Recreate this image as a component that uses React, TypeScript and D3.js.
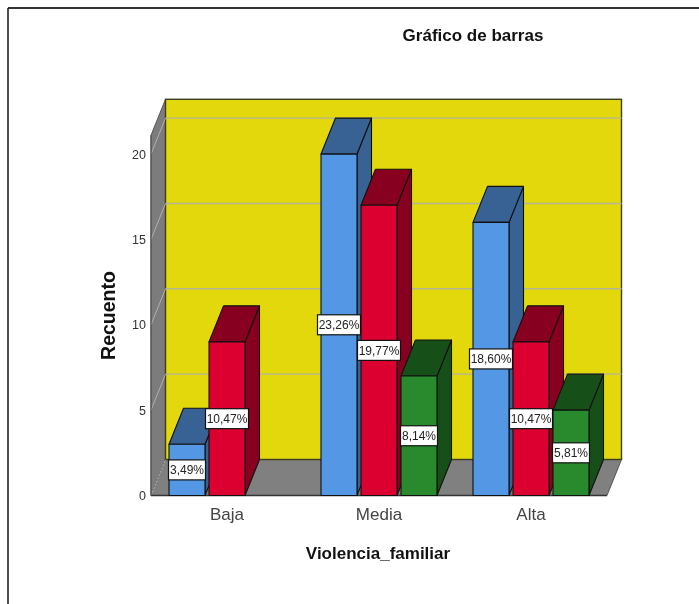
import React from "react";
import * as d3 from "d3";

const categories = ["Baja", "Media", "Alta"];
const seriesNames = ["s1", "s2", "s3"];
const seriesS1 = [3, 20, 16];
const seriesS2 = [9, 17, 9];
const seriesS3 = [0, 7, 5];
const labelsS1 = ["3,49%", "23,26%", "18,60%"];
const labelsS2 = ["10,47%", "19,77%", "10,47%"];
const labelsS3 = ["", "8,14%", "5,81%"];
const yTicks = [0, 5, 10, 15, 20];

const faces = [
  { front: "#5497E5", top: "#376293", side: "#376293" },
  { front: "#DC0031", top: "#87001F", side: "#87001F" },
  { front: "#288A2C", top: "#165018", side: "#165018" },
];
const seriesValues = [seriesS1, seriesS2, seriesS3];
const seriesLabels = [labelsS1, labelsS2, labelsS3];

const FONT = "'Liberation Sans', Arial, sans-serif";
const DX = 14.5;
const DY = -36;
const WALL = "#7C7C7C";
const FLOOR = "#808080";
const GRID = "#B4B49A";

const y = d3.scaleLinear().domain([0, 21.1]).range([495.5, 135.3]);
const x = d3.scaleBand<string>().domain(categories).range([151, 607]);
const inner = d3.scaleBand<string>().domain(seriesNames).range([-58, 58]).paddingInner(0.1);
const poly = (pts: [number, number][]) => d3.line()(pts) + "Z";

export default function App() {
  const x0 = x.range()[0];
  const x1 = x.range()[1];
  const yb = y.range()[0];
  const yt = y.range()[1];
  const bars = categories.flatMap((c, ci) =>
    seriesNames.map((s, si) => ({
      key: c + s,
      left: (x(c) as number) + x.bandwidth() / 2 + (inner(s) as number),
      width: inner.bandwidth(),
      v: seriesValues[si][ci],
      label: seriesLabels[si][ci],
      si,
    }))
  ).filter((b) => b.v > 0);

  return (
    <svg
      width={699}
      height={604}
      style={{ position: "absolute", left: 0, top: 0, display: "block", background: "#fff", filter: "blur(0.6px)" }}
      fontFamily={FONT}
    >
      <line x1={8} y1={8} x2={699} y2={8} stroke="#333" strokeWidth={1.8} />
      <line x1={8} y1={8} x2={8} y2={604} stroke="#222" strokeWidth={1.6} />
      <text x={473} y={41} fontSize={17} fontWeight="bold" textAnchor="middle" fill="#111">Gráfico de barras</text>

      {/* walls */}
      <path d={poly([[x0, yt], [x0 + DX, yt + DY], [x0 + DX, yb + DY], [x0, yb]])} fill={WALL} stroke="#555" strokeWidth={1} />
      <path d={poly([[x0, yb], [x0 + DX, yb + DY], [x1 + DX, yb + DY], [x1, yb]])} fill={FLOOR} stroke="none" />
      <rect x={x0 + DX} y={yt + DY} width={x1 - x0} height={yb - yt} fill="#E3D80C" stroke="#3c3c20" strokeWidth={1.4} />
      {yTicks.map((t) => (
        <g key={t}>
          {t > 0 && <line x1={x0 + DX} x2={x1 + DX} y1={y(t) + DY} y2={y(t) + DY} stroke={GRID} strokeWidth={1.4} />}
          <line x1={x0} x2={x0 + DX} y1={y(t)} y2={y(t) + DY} stroke="#B0B0B0" strokeWidth={1} strokeDasharray={t === 0 ? "2 1.5" : undefined} />
        </g>
      ))}
      <line x1={x0} x2={x1} y1={yb} y2={yb} stroke="#333" strokeWidth={1.4} />
      <line x1={x1} x2={x1 + DX} y1={yb} y2={yb + DY} stroke="#555" strokeWidth={1} />
      <line x1={x0} x2={x0} y1={yt} y2={yb} stroke="#555" strokeWidth={1.2} />

      {/* bars */}
      {bars.map((b) => {
        const f = faces[b.si];
        const t = y(b.v);
        const r = b.left + b.width;
        return (
          <g key={b.key} stroke="#101010" strokeWidth={1.1} strokeLinejoin="round">
            <path d={poly([[r, yb], [r + DX, yb + DY], [r + DX, t + DY], [r, t]])} fill={f.side} />
            <path d={poly([[b.left, t], [b.left + DX, t + DY], [r + DX, t + DY], [r, t]])} fill={f.top} />
            <rect x={b.left} y={t} width={b.width} height={yb - t} fill={f.front} />
          </g>
        );
      })}

      {/* data labels */}
      {bars.map((b) => {
        const cy = (y(b.v) + yb) / 2;
        const cx = b.left + b.width / 2;
        const w = b.label.length > 5 ? 43 : 37;
        return (
          <g key={"l" + b.key}>
            <rect x={cx - w / 2} y={cy - 10} width={w} height={20} fill="#fff" stroke="#111" strokeWidth={1.2} />
            <text x={cx} y={cy + 4.2} fontSize={12} textAnchor="middle" fill="#222">{b.label}</text>
          </g>
        );
      })}

      {/* axes text */}
      {yTicks.map((t) => (
        <text key={t} x={146} y={y(t) + 4.5} fontSize={12.5} textAnchor="end" fill="#333">{t}</text>
      ))}
      {categories.map((c) => (
        <text key={c} x={(x(c) as number) + x.bandwidth() / 2} y={520} fontSize={17} textAnchor="middle" fill="#444">{c}</text>
      ))}
      <text x={378} y={559} fontSize={17} fontWeight="bold" textAnchor="middle" fill="#111">Violencia_familiar</text>
      <text transform="translate(115,315.5) rotate(-90)" fontSize={19.5} fontWeight="bold" textAnchor="middle" fill="#111">Recuento</text>
    </svg>
  );
}
